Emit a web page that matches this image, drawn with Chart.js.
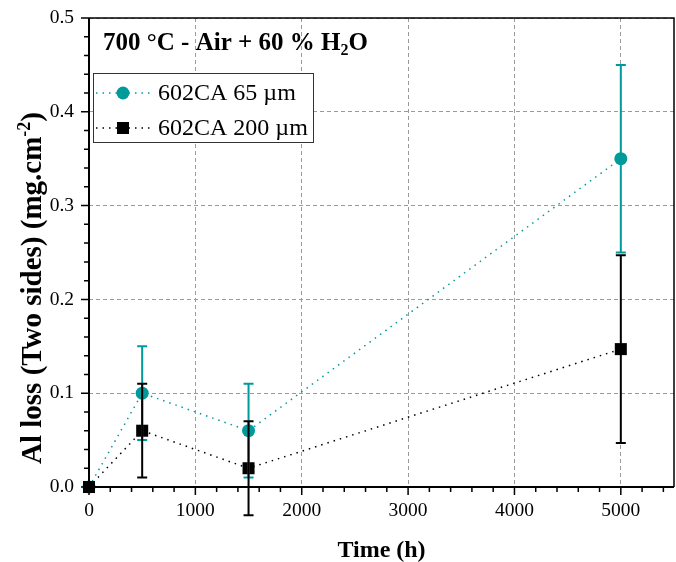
<!DOCTYPE html>
<html>
<head>
<meta charset="utf-8">
<script src="https://cdn.jsdelivr.net/npm/chart.js@4"></script>
<style>
  html, body { margin: 0; padding: 0; background: #fff; }
  #wrap { width: 676px; height: 562px; }
</style>
</head>
<body>
<div id="wrap"><canvas id="lossChart" width="676" height="562"></canvas></div>
<script>
// data
const times = [0, 500, 1500, 5000];
const loss65 = [0, 0.10, 0.06, 0.35];
const err65 = [0, 0.05, 0.05, 0.10];
const loss200 = [0, 0.06, 0.02, 0.147];
const err200 = [0, 0.05, 0.05, 0.10];
const xTicks = [0, 1000, 2000, 3000, 4000, 5000];
const yTicks = [0, 0.1, 0.2, 0.3, 0.4, 0.5];
const seriesLabels = ['602CA 65 µm', '602CA 200 µm'];
const titleParts = ['700 °C - Air + 60 % H', '2', 'O'];
const yTitleParts = ['Al loss (Two sides) (mg.cm', '-2', ')'];

const TEAL = '#009a9a';
const FONT = "'Liberation Serif', 'Times New Roman', serif";

const toPoints = (ys) => ys.map((v, i) => ({ x: times[i], y: v }));

// error bars, drawn after the markers
const errorBars = {
    id: 'errorBars',
    afterDatasetsDraw(chart) {
        const { ctx, scales: { x, y } } = chart;
        chart.data.datasets.forEach(ds => {
            ctx.save();
            ctx.strokeStyle = ds.pointBackgroundColor;
            ctx.lineWidth = 2;
            ds.data.forEach((p, i) => {
                const e = ds.errors[i];
                if (!e) return;
                const px = x.getPixelForValue(p.x);
                const top = y.getPixelForValue(p.y + e);
                const bot = y.getPixelForValue(p.y - e);
                ctx.beginPath();
                ctx.moveTo(px, top); ctx.lineTo(px, bot);
                ctx.moveTo(px - 5, top); ctx.lineTo(px + 5, top);
                ctx.moveTo(px - 5, bot); ctx.lineTo(px + 5, bot);
                ctx.stroke();
            });
            ctx.restore();
        });
    }
};

// draws text pieces in a row, the middle one as sub/superscript
function drawScripted(ctx, parts, x, y, size, shift) {
    let tx = x;
    parts.forEach((t, i) => {
        const small = i === 1;
        ctx.font = 'bold ' + (small ? Math.round(size * 0.62) : size) + 'px ' + FONT;
        ctx.fillText(t, tx, small ? y + shift : y);
        tx += ctx.measureText(t).width;
    });
    return tx - x;
}

// axis frame, minor ticks, title text, y title and legend box
const frame = {
    id: 'frame',
    afterDraw(chart) {
        const { ctx, chartArea: a, scales: { x, y } } = chart;
        ctx.save();
        ctx.strokeStyle = '#000';

        // ticks (outward)
        ctx.lineWidth = 1.5;
        ctx.beginPath();
        for (let i = 0; i <= 27; i++) {
            const px = x.getPixelForValue(i * 200);
            const len = i % 5 === 0 ? 8 : 5;
            ctx.moveTo(px, a.bottom); ctx.lineTo(px, a.bottom + len);
        }
        for (let i = 0; i <= 25; i++) {
            const py = y.getPixelForValue(i * 0.02);
            const len = i % 5 === 0 ? 8 : 5;
            ctx.moveTo(a.left, py); ctx.lineTo(a.left - len, py);
        }
        ctx.stroke();

        // box
        ctx.lineWidth = 1.5;
        ctx.beginPath();
        ctx.moveTo(a.left, a.top); ctx.lineTo(a.right, a.top); ctx.lineTo(a.right, a.bottom);
        ctx.stroke();
        ctx.lineWidth = 2;
        ctx.beginPath();
        ctx.moveTo(a.left, a.top); ctx.lineTo(a.left, a.bottom); ctx.lineTo(a.right, a.bottom);
        ctx.stroke();

        ctx.fillStyle = '#000';
        ctx.textBaseline = 'alphabetic';

        // title inside the plot
        drawScripted(ctx, titleParts, 103, 50, 25, 5);

        // y axis title, rotated
        ctx.save();
        ctx.translate(41, 288);
        ctx.rotate(-Math.PI / 2);
        ctx.globalAlpha = 0;
        const w = drawScripted(ctx, yTitleParts, 0, 0, 29, -11);
        ctx.globalAlpha = 1;
        drawScripted(ctx, yTitleParts, -w / 2, 0, 29, -11);
        ctx.restore();

        // legend
        const lx = 93, ly = 73, lw = 220, lh = 69;
        ctx.fillStyle = '#fff';
        ctx.fillRect(lx, ly, lw, lh);
        ctx.strokeStyle = '#333';
        ctx.lineWidth = 1;
        ctx.strokeRect(lx + 0.5, ly + 0.5, lw, lh);
        const rows = [93, 128];
        chart.data.datasets.forEach((ds, i) => {
            const ry = rows[i];
            ctx.save();
            ctx.strokeStyle = ds.borderColor;
            ctx.lineWidth = 1.5;
            ctx.setLineDash(ds.borderDash);
            ctx.beginPath();
            ctx.moveTo(96, ry); ctx.lineTo(152, ry);
            ctx.stroke();
            ctx.restore();
            ctx.fillStyle = ds.pointBackgroundColor;
            ctx.beginPath();
            if (ds.pointStyle === 'circle') {
                ctx.arc(123, ry, ds.pointRadius, 0, Math.PI * 2);
            } else {
                const s = ds.pointRadius * Math.SQRT1_2;
                ctx.rect(123 - s, ry - s, 2 * s, 2 * s);
            }
            ctx.fill();
            ctx.fillStyle = '#000';
            ctx.font = '24px ' + FONT;
            ctx.textBaseline = 'middle';
            ctx.fillText(ds.label, 158, ry + 1);
        });
        ctx.restore();
    }
};

const ctx = document.getElementById('lossChart').getContext('2d');
new Chart(ctx, {
    type: 'scatter',
    data: {
        datasets: [
            {
                label: seriesLabels[0],
                data: toPoints(loss65),
                errors: err65,
                order: 2,
                showLine: true,
                borderColor: TEAL,
                borderWidth: 1.5,
                borderDash: [1.5, 5],
                pointStyle: 'circle',
                pointRadius: 6.5,
                pointBackgroundColor: TEAL,
                pointBorderWidth: 0,
                clip: false
            },
            {
                label: seriesLabels[1],
                data: toPoints(loss200),
                errors: err200,
                order: 1,
                showLine: true,
                borderColor: '#000',
                borderWidth: 1.5,
                borderDash: [1.5, 5],
                pointStyle: 'rect',
                pointRadius: 8.5,
                pointBackgroundColor: '#000',
                pointBorderWidth: 0,
                clip: false
            }
        ]
    },
    options: {
        responsive: false,
        animation: false,
        layout: { autoPadding: false, padding: { top: 18, right: 2, left: 0, bottom: 0 } },
        plugins: {
            legend: { display: false },
            tooltip: { enabled: false }
        },
        scales: {
            x: {
                type: 'linear',
                min: 0,
                max: 5500,
                afterBuildTicks: (scale) => { scale.ticks = xTicks.map(v => ({ value: v })); },
                afterFit: (scale) => {
                    scale.height = 75;
                    scale.paddingLeft = 0;
                    scale.paddingRight = 0;
                },
                grid: { color: '#9a9a9a', lineWidth: 1, drawTicks: false },
                border: { display: false, dash: [4, 3] },
                ticks: {
                    padding: 12,
                    color: '#000',
                    font: { family: FONT, size: 19.5 },
                    callback: (v) => String(v)
                },
                title: {
                    display: true,
                    text: 'Time (h)',
                    color: '#000',
                    font: { family: FONT, size: 24, weight: 'bold' },
                    padding: { top: 0, bottom: -3 }
                }
            },
            y: {
                type: 'linear',
                min: 0,
                max: 0.5,
                afterBuildTicks: (scale) => { scale.ticks = yTicks.map(v => ({ value: v })); },
                afterFit: (scale) => {
                    scale.width = 89;
                    scale.paddingTop = 0;
                    scale.paddingBottom = 0;
                },
                grid: { color: '#9a9a9a', lineWidth: 1, drawTicks: false },
                border: { display: false, dash: [4, 3] },
                ticks: {
                    padding: 15,
                    color: '#000',
                    font: { family: FONT, size: 19.5 },
                    callback: (v) => v.toFixed(1)
                }
            }
        }
    },
    plugins: [errorBars, frame]
});
</script>
</body>
</html>
